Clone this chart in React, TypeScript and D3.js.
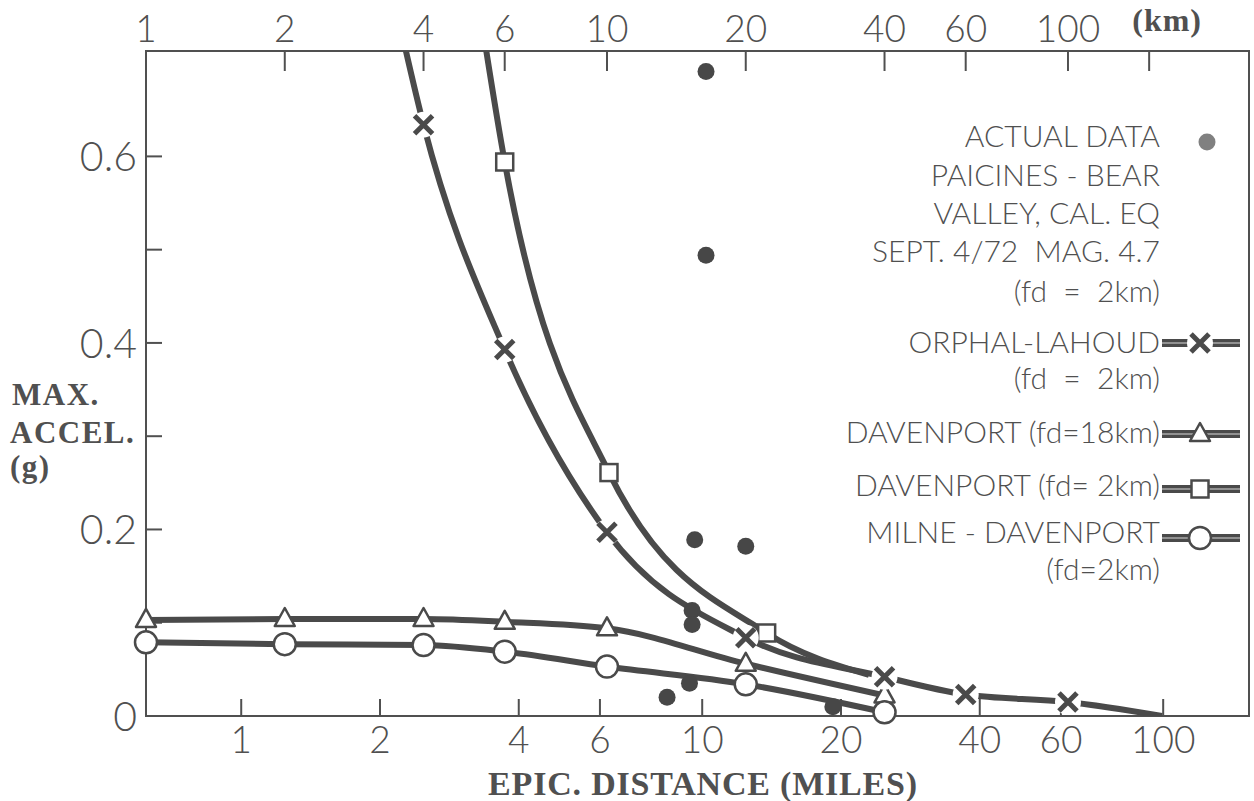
import * as d3 from "d3";

// top axis (km) and bottom axis (miles)
const kmTicks = [2, 4, 6, 10, 20, 40, 60, 100];
const kmTickLabels = ["1", "2", "4", "6", "10", "20", "40", "60", "100"];
const kmUnitTick = 150;
const mileTicks = [1, 2, 4, 6, 10, 20, 40, 60, 100];
const KM_PER_MILE = 1.609;
const gTicks = [0.1, 0.2, 0.3, 0.4, 0.5, 0.6];
const gLabels = [0, 0.2, 0.4, 0.6];

// actual data, Paicines - Bear Valley (km, g)
const actualKm = [16.4, 16.4, 15.5, 20, 15.3, 15.3, 15.1, 13.5, 30.9];
const actualG = [0.691, 0.494, 0.189, 0.182, 0.113, 0.098, 0.035, 0.02, 0.01];

// Orphal-Lahoud (fd = 2km)
const orphalKm = [4, 6, 10, 20, 40, 60, 100];
const orphalG = [0.634, 0.393, 0.197, 0.084, 0.042, 0.023, 0.015];
const orphalLead = [3.45, 0.77];
const orphalTail = [160, 0];

// Davenport (fd = 2km)
const dav2Km = [6, 10.1, 22.2];
const dav2G = [0.594, 0.261, 0.089];
const dav2Lead = [5.25, 0.77];
const dav2Tail = [37, 0.044];

// Davenport (fd = 18km)
const dav18Km = [1, 2, 4, 6, 10, 20, 40];
const dav18G = [0.103, 0.104, 0.104, 0.101, 0.094, 0.056, 0.022];

// Milne-Davenport (fd = 2km)
const milneKm = [1, 2, 4, 6, 10, 20, 40];
const milneG = [0.079, 0.077, 0.076, 0.069, 0.053, 0.034, 0.004];

const W = 1254;
const H = 801;
const left = 146, right = 1249, top = 51, bottom = 716;
const ink = "#4a4a4a";
const textInk = "#505050";
const sans = "Lato, 'Open Sans', 'DejaVu Sans', sans-serif";
const serif = "'Liberation Serif', 'DejaVu Serif', serif";

const x = d3.scaleLog().domain([1, 247]).range([left, right]);
const y = d3.scaleLinear().domain([0, 0.713]).range([bottom, top]);
const xMiles = x.copy().domain(x.domain().map(d => d / KM_PER_MILE));

const line = d3.line<number[]>()
  .x(d => x(d[0]))
  .y(d => y(d[1]))
  .curve(d3.curveMonotoneX);

const zip = (a: number[], b: number[]) => a.map((v, i) => [v, b[i]]);

function XMark({ cx, cy }: { cx: number; cy: number }) {
  return (
    <g transform={`translate(${cx},${cy})`}>
      <circle r={13} fill="#fff" />
      <path d="M-9,-9L9,9M-9,9L9,-9" stroke={ink} strokeWidth={5} />
    </g>
  );
}
function Square({ cx, cy }: { cx: number; cy: number }) {
  return <rect x={cx - 8.5} y={cy - 8.5} width={17} height={17} fill="#fff" stroke={ink} strokeWidth={2.5} />;
}
function Tri({ cx, cy }: { cx: number; cy: number }) {
  return <path transform={`translate(${cx},${cy})`} d="M0,-11L10,7L-10,7Z" fill="#fff" stroke={ink} strokeWidth={2.5} strokeLinejoin="round" />;
}
function Circ({ cx, cy }: { cx: number; cy: number }) {
  return <circle cx={cx} cy={cy} r={11} fill="#fff" stroke={ink} strokeWidth={2.5} />;
}

const legendText = [
  { t: "ACTUAL DATA", y: 147 },
  { t: "PAICINES - BEAR", y: 186 },
  { t: "VALLEY, CAL. EQ", y: 224 },
  { t: "SEPT. 4/72  MAG. 4.7", y: 262 },
  { t: "(fd  =  2km)", y: 302 },
  { t: "ORPHAL-LAHOUD", y: 353 },
  { t: "(fd  =  2km)", y: 389 },
  { t: "DAVENPORT (fd=18km)", y: 443 },
  { t: "DAVENPORT (fd= 2km)", y: 496 },
  { t: "MILNE - DAVENPORT", y: 543 },
  { t: "(fd=2km)", y: 580 },
];

export default function App() {
  const orphal = [orphalLead, ...zip(orphalKm, orphalG), orphalTail];
  const dav2 = [dav2Lead, ...zip(dav2Km, dav2G), dav2Tail];
  const dav18 = zip(dav18Km, dav18G);
  const milne = zip(milneKm, milneG);

  const legendLine = (ly: number) => (
    <g>
      <line x1={1162} x2={1240} y1={ly} y2={ly} stroke={ink} strokeWidth={8} />
      <line x1={1162} x2={1240} y1={ly} y2={ly} stroke="#aaa" strokeWidth={1.5} />
    </g>
  );

  return (
    <svg width={W} height={H} viewBox={`0 0 ${W} ${H}`}
      style={{ position: "fixed", left: 0, top: 0, background: "#fff" }}>
      <defs>
        <clipPath id="plot">
          <rect x={left} y={top} width={right - left} height={bottom - top} />
        </clipPath>
      </defs>

      {/* frame */}
      <rect x={left} y={top} width={right - left} height={bottom - top} fill="none" stroke={textInk} strokeWidth={2} />

      {/* top km axis */}
      {kmTicks.map(k => (
        <line key={"kt" + k} x1={x(k)} x2={x(k)} y1={top} y2={top + 20} stroke={textInk} strokeWidth={2} />
      ))}
      <line x1={x(kmUnitTick)} x2={x(kmUnitTick)} y1={top} y2={top + 20} stroke={textInk} strokeWidth={2} />
      {[1, ...kmTicks].map((k, i) => (
        <text key={"kl" + k} x={x(k)} y={42} textAnchor="middle" fontFamily={sans} fontWeight={300}
          fontSize={37} fill={textInk}>{kmTickLabels[i]}</text>
      ))}
      <text x={x(kmUnitTick) + 18} y={31} textAnchor="middle" fontFamily={serif} fontWeight="bold"
        fontSize={32} letterSpacing={1} fill={textInk}>(km)</text>

      {/* bottom miles axis */}
      {mileTicks.map(m => (
        <g key={"mt" + m}>
          <line x1={xMiles(m)} x2={xMiles(m)} y1={bottom} y2={bottom - 17} stroke={textInk} strokeWidth={2} />
          <text x={xMiles(m)} y={753} textAnchor="middle" fontFamily={sans} fontWeight={300}
            fontSize={37} fill={textInk}>{m}</text>
        </g>
      ))}

      {/* left g axis */}
      {gTicks.map(g => (
        <line key={"gt" + g} x1={left} x2={left + 16} y1={y(g)} y2={y(g)} stroke={textInk} strokeWidth={2} />
      ))}
      {gLabels.map(g => (
        <text key={"gl" + g} x={137} y={y(g)} dy="0.36em" textAnchor="end" fontFamily={sans} fontWeight={300}
          fontSize={41} fill={textInk}>{g === 0 ? "0" : g.toFixed(1)}</text>
      ))}

      {/* curves */}
      <g clipPath="url(#plot)" fill="none" stroke={ink} strokeWidth={6}>
        <path d={line(orphal) || ""} />
        <path d={line(dav2) || ""} />
        <path d={line(dav18) || ""} />
        <path d={line(milne) || ""} />
      </g>

      {/* markers */}
      {dav18.map((d, i) => <Tri key={"tr" + i} cx={x(d[0])} cy={y(d[1])} />)}
      {milne.map((d, i) => <Circ key={"ci" + i} cx={x(d[0])} cy={y(d[1])} />)}
      {zip(dav2Km, dav2G).map((d, i) => <Square key={"sq" + i} cx={x(d[0])} cy={y(d[1])} />)}
      {zip(orphalKm, orphalG).map((d, i) => <XMark key={"xm" + i} cx={x(d[0])} cy={y(d[1])} />)}
      {zip(actualKm, actualG).map((d, i) => (
        <circle key={"ad" + i} cx={x(d[0])} cy={y(d[1])} r={8.5} fill="#474747" />
      ))}

      {/* legend */}
      {legendText.map((l, i) => (
        <text key={"lg" + i} x={1160} y={l.y} textAnchor="end" fontFamily={sans} fontWeight={300}
          fontSize={30} fill={textInk} style={{ whiteSpace: "pre" }}>{l.t}</text>
      ))}
      <circle cx={1207} cy={142} r={8.5} fill="#808080" />
      {legendLine(343)}
      <XMark cx={1200} cy={343} />
      {legendLine(434)}
      <Tri cx={1200} cy={434} />
      {legendLine(489)}
      <Square cx={1200} cy={489} />
      {legendLine(538)}
      <Circ cx={1200} cy={538} />

      {/* axis titles */}
      <g fontFamily={serif} fontWeight="bold" fill={textInk}>
        <g fontSize={31} letterSpacing={1.5}>
          <text x={12} y={405}>MAX.</text>
          <text x={10} y={443}>ACCEL.</text>
          <text x={10} y={477}>(g)</text>
        </g>
        <text x={703} y={795} textAnchor="middle" fontSize={34} letterSpacing={0.8}>EPIC. DISTANCE (MILES)</text>
      </g>
    </svg>
  );
}
